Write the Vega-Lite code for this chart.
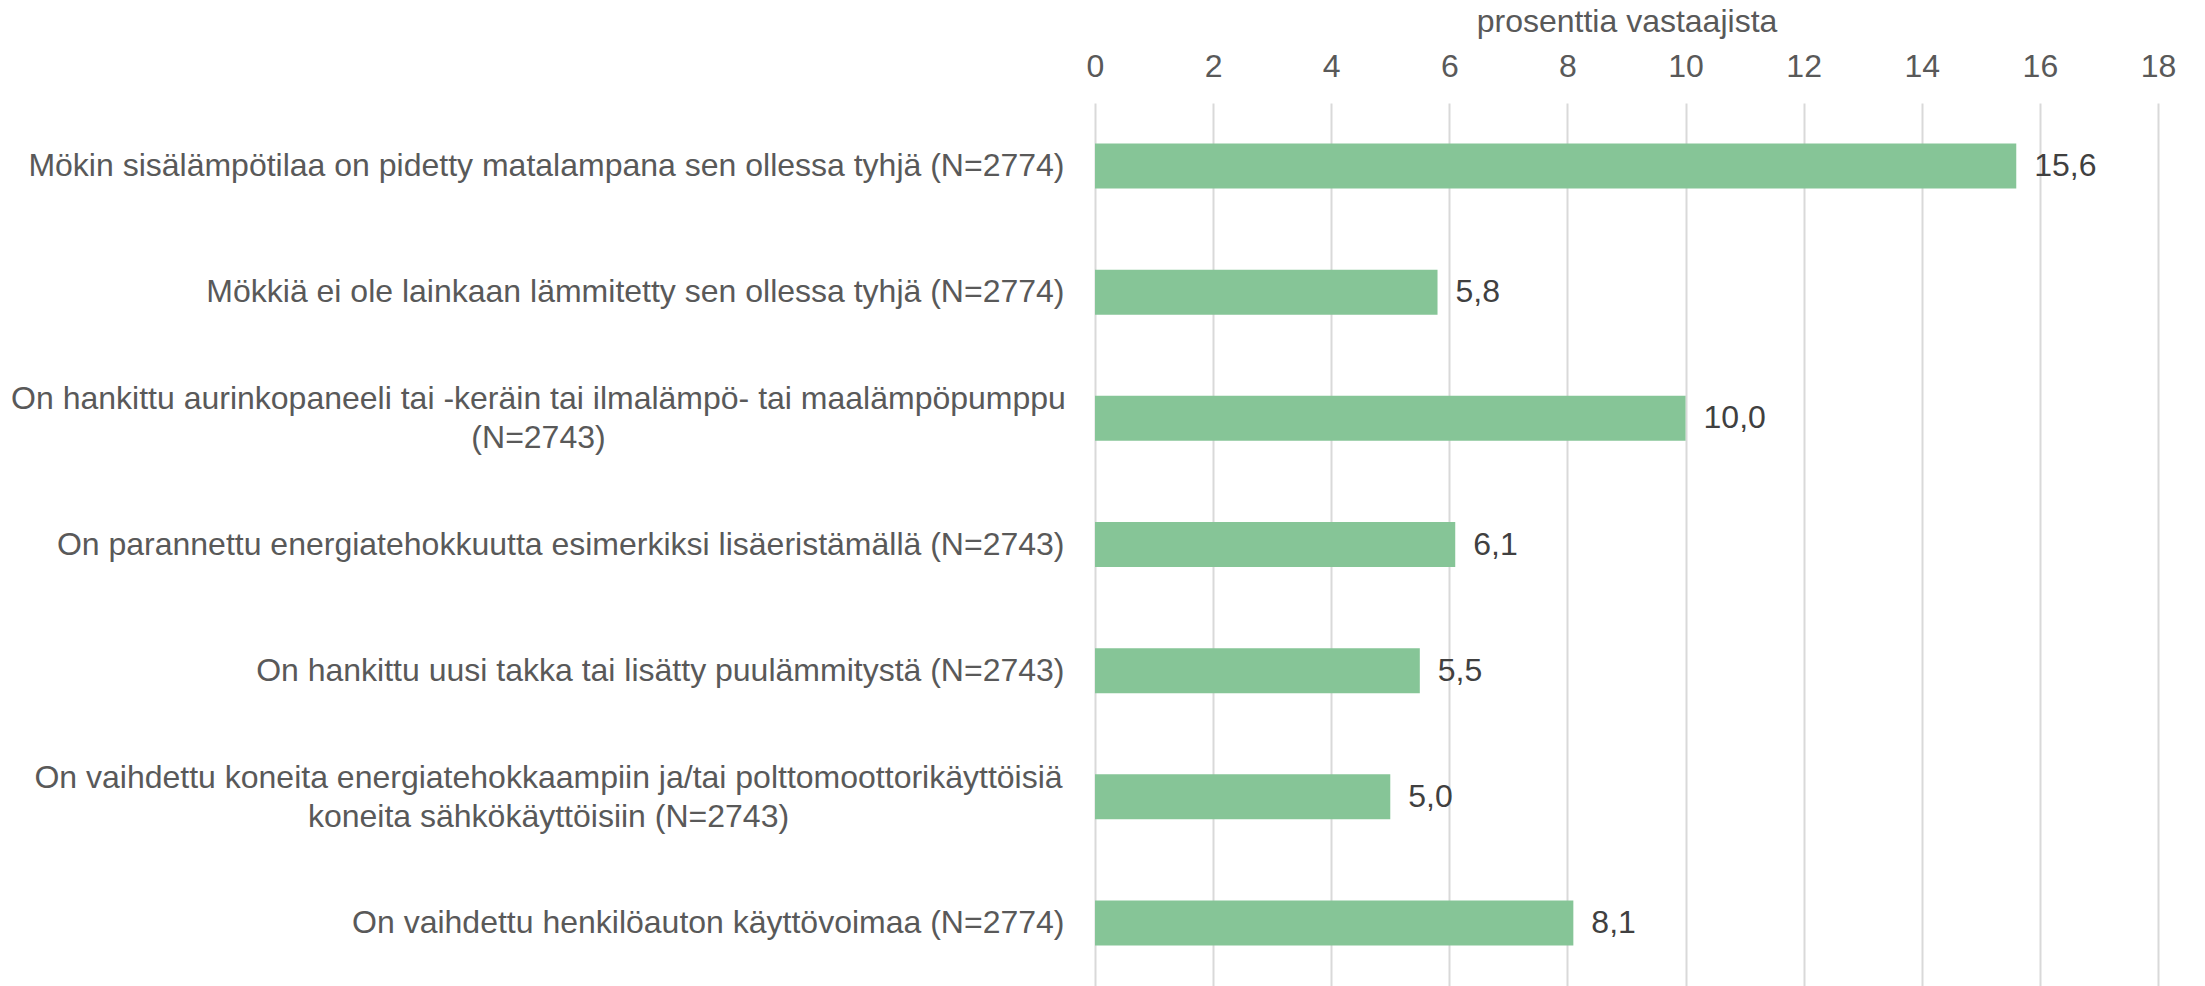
{
  "$schema": "https://vega.github.io/schema/vega-lite/v6.json",
  "autosize": {"type": "none"},
  "width": 1063,
  "height": 883,
  "padding": {"left": 1095, "top": 103, "right": 47, "bottom": 0},
  "background": "white",
  "config": {
    "locale": {"number": {"decimal": ",", "thousands": " ", "grouping": [3], "currency": ["", " €"]}},
    "view": {"stroke": null},
    "font": "Liberation Sans"
  },
  "data": {
    "values": [
      {"kategoria": "Mökin sisälämpötilaa on pidetty matalampana sen ollessa tyhjä (N=2774)", "arvo": 15.6},
      {"kategoria": "Mökkiä ei ole lainkaan lämmitetty sen ollessa tyhjä (N=2774)", "arvo": 5.8},
      {"kategoria": "On hankittu aurinkopaneeli tai -keräin tai ilmalämpö- tai maalämpöpumppu\n(N=2743)", "arvo": 10.0},
      {"kategoria": "On parannettu energiatehokkuutta esimerkiksi lisäeristämällä (N=2743)", "arvo": 6.1},
      {"kategoria": "On hankittu uusi takka tai lisätty puulämmitystä (N=2743)", "arvo": 5.5},
      {"kategoria": "On vaihdettu koneita energiatehokkaampiin ja/tai polttomoottorikäyttöisiä\nkoneita sähkökäyttöisiin (N=2743)", "arvo": 5.0},
      {"kategoria": "On vaihdettu henkilöauton käyttövoimaa (N=2774)", "arvo": 8.1}
    ]
  },
  "encoding": {
    "y": {
      "field": "kategoria",
      "type": "nominal",
      "sort": null,
      "scale": {"paddingInner": 0.643, "paddingOuter": 0.3215},
      "axis": {
        "title": null,
        "domain": false,
        "ticks": false,
        "labelExpr": "split(datum.label, '\\n')",
        "labelFontSize": 32,
        "labelColor": "#595959",
        "labelLimit": 2000,
        "labelLineHeight": 39,
        "labelAlign": {"condition": {"test": "indexof(datum.value, '\\n') >= 0", "value": "center"}, "value": "right"},
        "labelOffset": {"condition": {"test": "indexof(datum.value, '\\n') >= 0", "value": -19}, "value": 0},
        "labelPadding": {"condition": [
          {"test": "indexof(datum.value, 'koneita') >= 0", "value": 547},
          {"test": "indexof(datum.value, 'aurinkopaneeli') >= 0", "value": 557}
        ], "value": 31}
      }
    },
    "x": {
      "field": "arvo",
      "type": "quantitative",
      "scale": {"domain": [0, 18], "nice": false},
      "axis": {
        "orient": "top",
        "values": [0, 2, 4, 6, 8, 10, 12, 14, 16, 18],
        "title": "prosenttia vastaajista",
        "titleFontSize": 32,
        "titleFontWeight": "normal",
        "titleColor": "#595959",
        "titlePadding": 12,
        "domain": false,
        "ticks": false,
        "labelFlush": false,
        "labelFontSize": 32,
        "labelColor": "#595959",
        "labelPadding": 20,
        "grid": true,
        "gridColor": "#D9D9D9",
        "gridWidth": 2
      }
    }
  },
  "layer": [
    {"mark": {"type": "bar", "color": "#86C597"}},
    {
      "mark": {"type": "text", "align": "left", "baseline": "middle", "dx": 18, "fontSize": 32, "color": "#404040"},
      "encoding": {"text": {"field": "arvo", "type": "quantitative", "format": ".1f"}}
    }
  ]
}
